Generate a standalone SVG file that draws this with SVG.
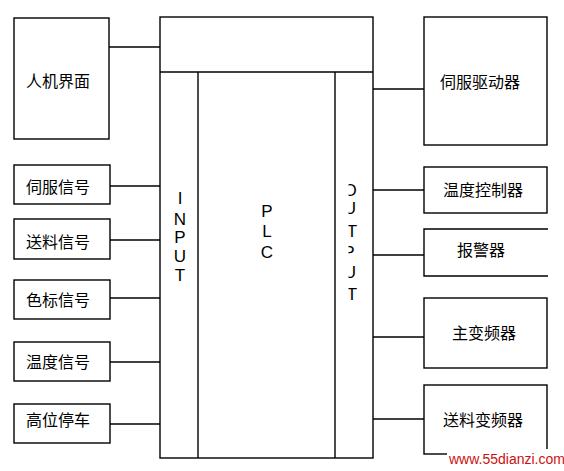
<svg xmlns="http://www.w3.org/2000/svg" width="564" height="471" viewBox="0 0 564 471">
<defs>
<style>
.b{fill:none;stroke:#000;stroke-width:1.4}
.c{stroke:#000;stroke-width:1.3;fill:none}
.t{font-family:"Noto Sans CJK SC","Noto Sans",sans-serif;font-size:16px;fill:#000}
.l{font-family:"Liberation Sans","DejaVu Sans",sans-serif;font-size:17px;fill:#000;text-anchor:middle}
.w{font-family:"Liberation Sans",Arial,sans-serif;font-size:14px;fill:#cc1111}
</style>
<clipPath id="oc"><rect x="348.5" y="170" width="20" height="140"/></clipPath>
</defs>
<rect width="564" height="471" fill="#fff"/>
<g id="plc">
<rect class="b" x="160" y="17" width="213" height="441"/>
<line class="b" x1="160" y1="72" x2="373" y2="72"/>
<line class="b" x1="198" y1="72" x2="198" y2="458"/>
<line class="b" x1="335" y1="72" x2="335" y2="458"/>
<g class="l">
<text x="180" y="204">I</text>
<text x="180" y="225">N</text>
<text x="180" y="243">P</text>
<text x="180" y="262">U</text>
<text x="180" y="281">T</text>
<text x="267" y="217">P</text>
<text x="267" y="237">L</text>
<text x="267" y="258">C</text>
<g clip-path="url(#oc)">
<text x="350" y="196">O</text>
<text x="350" y="214">U</text>
<text x="352" y="237">T</text>
<text x="349" y="258">P</text>
<text x="350" y="278">U</text>
<text x="352" y="300">T</text>
</g>
</g>
</g>
<g id="hmi"><rect class="b" x="14" y="18" width="95" height="121"/><text class="t" x="26" y="87">人机界面</text></g>
<g id="in1"><rect class="b" x="14" y="165" width="96" height="39"/><text class="t" x="26" y="193">伺服信号</text></g>
<g id="in2"><rect class="b" x="14" y="219" width="96" height="40"/><text class="t" x="26" y="248">送料信号</text></g>
<g id="in3"><rect class="b" x="14" y="280" width="96" height="39"/><text class="t" x="26" y="306">色标信号</text></g>
<g id="in4"><rect class="b" x="14" y="342" width="96" height="39"/><text class="t" x="26" y="368">温度信号</text></g>
<g id="in5"><rect class="b" x="14" y="404" width="96" height="39"/><text class="t" x="26" y="426">高位停车</text></g>
<g id="out1"><rect class="b" x="424" y="17" width="123" height="128"/><text class="t" x="440" y="88">伺服驱动器</text></g>
<g id="out2"><rect class="b" x="424" y="167" width="123" height="46"/><text class="t" x="443" y="196">温度控制器</text></g>
<g id="out3"><path class="b" d="M548,229 H424 V276 H548"/><text class="t" x="457" y="256">报警器</text></g>
<g id="out4"><rect class="b" x="424" y="298" width="123" height="70"/><text class="t" x="452" y="339">主变频器</text></g>
<g id="out5"><rect class="b" x="424" y="385" width="123" height="69"/><text class="t" x="443" y="426">送料变频器</text></g>
<g id="connectors">
<line class="c" x1="109" y1="47" x2="160" y2="47"/>
<line class="c" x1="110" y1="186" x2="160" y2="186"/>
<line class="c" x1="110" y1="240" x2="160" y2="240"/>
<line class="c" x1="110" y1="298" x2="160" y2="298"/>
<line class="c" x1="110" y1="362" x2="160" y2="362"/>
<line class="c" x1="110" y1="424" x2="160" y2="424"/>
<line class="c" x1="373" y1="89" x2="424" y2="89"/>
<line class="c" x1="373" y1="190" x2="424" y2="190"/>
<line class="c" x1="373" y1="255" x2="424" y2="255"/>
<line class="c" x1="373" y1="337" x2="424" y2="337"/>
<line class="c" x1="373" y1="419" x2="424" y2="419"/>
</g>
<rect x="447" y="449" width="117" height="22" fill="#fff"/>
<text class="w" x="449" y="464">www.55dianzi.com</text>
</svg>
